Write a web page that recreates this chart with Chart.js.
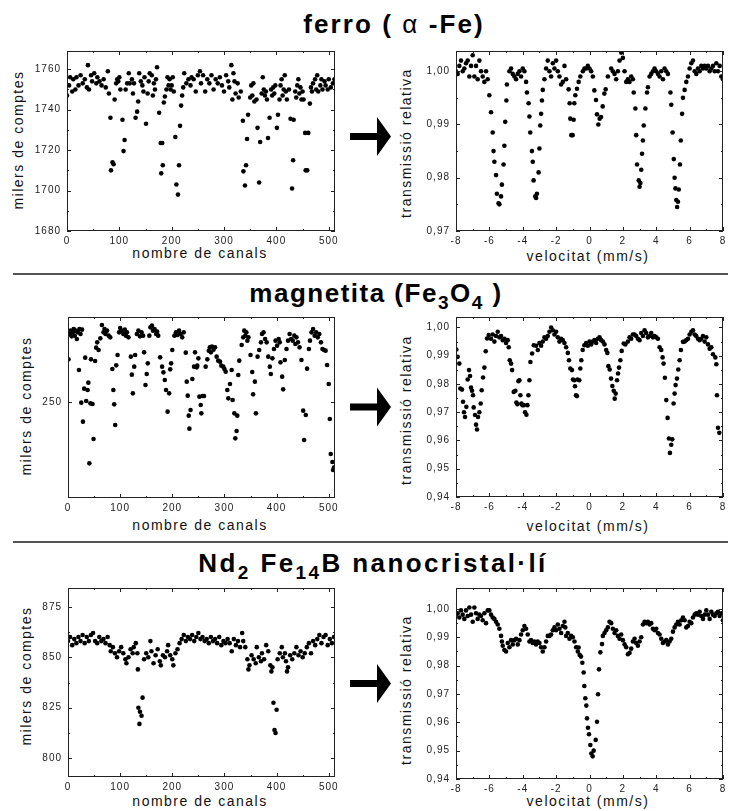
<!DOCTYPE html>
<html>
<head>
<meta charset="utf-8">
<script src="https://cdn.jsdelivr.net/npm/chart.js@4.4.0/dist/chart.umd.min.js"></script>
<style>
  body { margin: 0; background: #fff; width: 741px; height: 811px; position: relative; overflow: hidden;
         font-family: Arial, "Liberation Sans", sans-serif; }
  canvas { position: absolute; }
  .title { position: absolute; transform: translateX(-50%); font-weight: bold; font-size: 26px; line-height: 26px;
           color: #000; white-space: nowrap; letter-spacing: 1.5px; }
  .title sub { font-size: 19px; vertical-align: -7px; line-height: 0; }
  .title .alpha { font-weight: normal; }
  .sep { position: absolute; left: 13px; width: 715px; height: 2px; background: #555; }
  .ax { position: absolute; font-size: 14px; color: #111; white-space: nowrap; letter-spacing: 1.5px; }
  .ax.y { transform: translate(-50%, -50%) rotate(-90deg); }
  .ax.x { transform: translate(-50%, -50%); }
  svg { position: absolute; left: 0; top: 0; }
</style>
</head>
<body>
<div class="title" style="left:394px;top:11px;letter-spacing:2.1px">ferro ( <span class="alpha">&alpha;</span> -Fe)</div>
<div class="sep" style="top:273px"></div>
<div class="title" style="left:376px;top:280px">magnetita (Fe<sub>3</sub>O<sub>4</sub> )</div>
<div class="sep" style="top:541px"></div>
<div class="title" style="left:373px;top:550px;letter-spacing:2.4px">Nd<sub>2</sub> Fe<sub>14</sub>B nanocristal·lí</div>

<svg width="741" height="811">
  <polygon fill="#000" points="350,133 377,133 377,117 391,136.5 377,156 377,140 350,140"/>
  <polygon fill="#000" points="350,403.5 377,403.5 377,387.5 391,407 377,426.5 377,410.5 350,410.5"/>
  <polygon fill="#000" points="350,680 377,680 377,664 391,683.5 377,703 377,687 350,687"/>
</svg>

<div class="ax y" style="left:18px;top:140px">milers de comptes</div>
<div class="ax x" style="left:200px;top:253px">nombre de canals</div>
<div class="ax y" style="left:406px;top:143px">transmissió relativa</div>
<div class="ax x" style="left:588px;top:256px">velocitat (mm/s)</div>
<div class="ax y" style="left:26px;top:406px">milers de comptes</div>
<div class="ax x" style="left:200px;top:525px">nombre de canals</div>
<div class="ax y" style="left:406px;top:410px">transmissió relativa</div>
<div class="ax x" style="left:588px;top:526px">velocitat (mm/s)</div>
<div class="ax y" style="left:26px;top:676px">milers de comptes</div>
<div class="ax x" style="left:200px;top:801px">nombre de canals</div>
<div class="ax y" style="left:406px;top:690px">transmissió relativa</div>
<div class="ax x" style="left:588px;top:801px">velocitat (mm/s)</div>

<script>
// --- tick values ---
const canalTicks = [0, 100, 200, 300, 400, 500];
const canalMinor = [50, 150, 250, 350, 450];
const velTicks = [-8, -6, -4, -2, 0, 2, 4, 6, 8];
const velMinor = [-7, -5, -3, -1, 1, 3, 5, 7];
const ferroCountTicks = [1680, 1700, 1720, 1740, 1760];
const ferroCountMinor = [1690, 1710, 1730, 1750];
const magCountTicks = [250];
const ndCountTicks = [800, 825, 850, 875];
const ndCountMinor = [812.5, 837.5, 862.5];
const ferroTransTicks = [0.97, 0.98, 0.99, 1.00];
const ferroTransMinor = [0.975, 0.985, 0.995];
const transTicks = [0.94, 0.95, 0.96, 0.97, 0.98, 0.99, 1.00];
const transMinor = [0.945, 0.955, 0.965, 0.975, 0.985, 0.995];

// --- ferro (alpha-Fe): [canal, milers de comptes] ---
const ferroCanals = [[0,1747],[4,1752],[6,1756],[10,1749],[12,1755],[16,1750],[18,1756],[22,1752],[26,1757],[30,1753],[34,1755],[38,1751],[40,1762],[42,1750],[46,1757],[48,1754],[52,1758],[56,1753],[58,1756],[62,1754],[66,1752],[70,1755],[74,1751],[78,1759],[80,1748],[83,1736],[84,1710],[87,1714],[89,1713],[91,1745],[94,1753],[96,1755],[98,1754],[100,1756],[102,1750],[106,1735],[108,1719.5],[110,1725],[112,1750],[115,1753],[118,1758],[120,1753],[124,1755],[126,1748],[128,1753],[131,1736],[134,1739],[136,1744],[138,1758],[141,1754],[144,1752],[146,1749],[148,1756],[151,1733],[154,1748],[156,1754],[158,1758],[162,1757],[164,1747],[166,1753],[168,1750],[170,1755],[172,1761],[176,1738.5],[179,1723.5],[180,1708.5],[182,1723.5],[183,1712.5],[185,1743.5],[187,1746.5],[190,1750],[192,1756],[194,1752],[196,1755],[198,1750],[200,1752],[202,1756],[204,1749],[207,1726.5],[209,1703],[212,1698],[214,1712.5],[216,1732],[218,1742],[220,1747],[222,1751],[224,1758],[228,1753],[232,1755],[236,1752],[238,1756],[242,1755],[246,1749],[250,1757],[254,1759],[256,1753],[260,1757],[264,1749],[268,1755],[272,1753],[276,1757],[280,1750],[284,1755],[288,1753],[292,1756],[296,1752],[300,1749],[304,1757],[308,1754],[310,1751],[314,1762],[316,1745],[318,1758],[320,1754],[322,1748],[326,1753],[328,1746],[332,1749],[336,1734.5],[337,1709.5],[340,1702.5],[342,1712.5],[344,1725.5],[346,1737.5],[350,1746],[352,1752],[354,1747],[356,1753],[358,1744],[362,1745],[364,1731],[367,1704],[369,1724],[372,1748],[374,1756],[376,1750],[378,1747],[380,1749],[382,1745],[384,1726],[387,1736],[390,1750],[392,1747],[394,1751],[396,1748],[398,1752],[401,1731],[403,1737.5],[406,1745],[408,1752],[410,1755],[412,1747],[414,1750],[416,1757],[418,1749],[420,1745],[424,1750],[427,1735.5],[430,1701],[432,1715],[433,1735],[436,1749],[438,1746],[440,1752],[442,1755],[444,1748],[446,1751],[448,1745],[450,1749],[452,1745],[455,1728.5],[456,1710],[459,1710],[461,1728.5],[464,1743],[466,1751],[468,1749],[470,1753],[474,1755],[476,1750],[478,1757],[480,1749],[484,1752],[486,1755],[488,1750],[492,1754],[494,1752],[498,1750],[500,1755],[504,1751],[508,1753],[511,1755]];

// --- ferro (alpha-Fe): [velocitat mm/s, transmissio] ---
const ferroVel = [[-8,1.000],[-7.9,0.9995],[-7.8,1.001],[-7.7,1.002],[-7.6,1.000],[-7.5,1.0005],[-7.4,1.0015],[-7.3,1.002],[-7.2,0.999],[-7.1,1.001],[-7.0,1.003],[-6.9,0.999],[-6.8,1.001],[-6.7,0.9985],[-6.6,1.002],[-6.5,1.000],[-6.4,0.999],[-6.3,0.998],[-6.2,1.000],[-6.1,0.9985],
  [-6.0,0.9955],[-5.9,0.9923],[-5.8,0.9885],[-5.75,0.985],[-5.7,0.983],[-5.6,0.9805],[-5.55,0.977],[-5.45,0.9752],[-5.4,0.975],[-5.3,0.9765],[-5.25,0.9787],[-5.15,0.9825],[-5.1,0.986],[-5.05,0.9905],[-4.98,0.9945],[-4.95,0.9975],
  [-4.8,1.000],[-4.7,1.0005],[-4.6,0.9995],[-4.5,0.999],[-4.4,0.9985],[-4.3,0.9995],[-4.2,1.000],[-4.1,0.999],[-4.0,1.0005],[-3.9,1.000],[-3.8,0.998],
  [-3.75,0.996],[-3.65,0.994],[-3.6,0.9915],[-3.55,0.9885],[-3.45,0.985],[-3.4,0.983],[-3.35,0.9795],[-3.25,0.9765],[-3.2,0.9762],[-3.15,0.977],[-3.05,0.981],[-3.0,0.9855],[-2.95,0.9898],[-2.9,0.992],[-2.85,0.9945],[-2.8,0.9965],[-2.7,0.9985],
  [-2.6,1.0005],[-2.5,1.002],[-2.4,1.000],[-2.3,0.999],[-2.2,1.0015],[-2.1,1.0005],[-2.0,1.002],[-1.9,1.000],[-1.8,0.999],[-1.7,0.9975],[-1.6,0.998],[-1.5,1.001],[-1.4,0.9985],
  [-1.25,0.9966],[-1.19,0.994],[-1.15,0.9911],[-1.09,0.988],[-1.01,0.988],[-0.95,0.9909],[-0.91,0.994],[-0.85,0.9955],[-0.75,0.9967],[-0.65,0.998],[-0.55,0.999],
  [-0.4,1.000],[-0.3,1.0005],[-0.2,1.0005],[-0.1,1.001],[0,1.0005],[0.1,1.000],[0.2,0.999],
  [0.29,0.9964],[0.39,0.9946],[0.45,0.9919],[0.53,0.990],[0.61,0.9911],[0.69,0.9914],[0.79,0.9934],[0.89,0.9958],[0.97,0.9966],[1.1,0.999],
  [1.3,1.0005],[1.4,1.000],[1.5,0.9995],[1.6,0.9985],[1.7,1.000],[1.8,1.002],[1.9,1.0035],[2.0,1.0025],[2.1,1.000],[2.2,0.998],[2.3,0.9985],[2.4,0.998],[2.5,0.999],[2.6,0.9985],
  [2.65,0.996],[2.75,0.993],[2.8,0.988],[2.85,0.9825],[2.95,0.9795],[3.0,0.9783],[3.05,0.979],[3.1,0.9815],[3.15,0.9845],[3.2,0.987],[3.25,0.9898],[3.35,0.993],[3.45,0.996],[3.5,0.997],[3.6,0.999],
  [3.7,0.9995],[3.8,1.000],[3.9,1.0005],[4.0,1.000],[4.1,0.9995],[4.2,0.999],[4.3,1.000],[4.4,0.9985],[4.5,1.0005],[4.6,1.000],[4.7,0.9995],
  [4.85,0.996],[4.9,0.9937],[4.98,0.9885],[5.05,0.9835],[5.1,0.980],[5.15,0.978],[5.2,0.9758],[5.25,0.9745],[5.3,0.9755],[5.35,0.9778],[5.42,0.9825],[5.47,0.987],[5.55,0.992],[5.6,0.995],[5.7,0.9965],[5.8,0.998],
  [5.9,0.999],[6.0,1.0005],[6.1,1.0015],[6.2,1.002],[6.3,1.000],[6.4,0.9995],[6.5,1.0005],[6.6,1.000],[6.7,1.001],[6.8,1.0005],[6.9,1.001],[7.0,1.0005],[7.1,1.001],[7.2,1.000],[7.3,1.0005],[7.4,1.001],[7.5,1.000],[7.6,1.0015],[7.7,1.000],[7.8,1.001],[7.9,0.999],[8.0,0.9985]];

// --- magnetita (Fe3O4): [canal, milers de comptes] ---
const magCanals = [[1,262.9],[3,270.5],[5,271.5],[7,269.8],[9,271],[11,272],[13,270],[15,271.5],[17,269],[19,271],[21,259.7],[22,272],[24,270.5],[25.5,249.9],[27,271.8],[28.7,244.2],[31,254.1],[33,263.4],[35,250.4],[37.6,253.7],[39,255.9],[41,231.7],[43,249.7],[44,262.9],[47,249.5],[49,239],[52,262.4],[54,266.4],[56,268],[58.7,265.7],[62,269.2],[65,273.2],[68,271],[70,272],[72,270.5],[75,271.5],[78,270],[81,269.5],[85,260],[87,253.7],[88.6,249.4],[90.5,243.2],[92.5,261.1],[95,264.2],[98,271],[100,272.3],[103,271.5],[106,270.5],[109,271.8],[111,270],[113,271],[116,269.5],[120.5,263.7],[122.4,258.3],[124.4,252.7],[127,260.7],[128.8,264.2],[132,270.5],[135,271.5],[138,269.8],[141,271],[144,270],[146,265],[148.6,255.2],[151,258.5],[153,261.7],[156,270],[158,272.5],[161,273],[163,271.5],[166,272],[169,270.5],[171,271.2],[173,270],[176.7,263.5],[180.5,260.7],[183,259],[185.6,256.7],[188,253.7],[191,247.2],[194,252.7],[196,259.9],[197.7,261.7],[200,265.7],[204,270],[207,271],[210,270.2],[213,271.5],[216,270.5],[219,269.5],[222,271],[225.8,264.9],[227.7,256.2],[229.6,252],[231.5,246],[232.8,242.1],[235,247.7],[238.5,257],[241.7,260.7],[243.6,265],[246.8,260.5],[248,261],[250,263.2],[252,251.7],[254.5,249.2],[255.7,246.7],[258.3,251.9],[260.8,251.9],[264,260.7],[267.2,262.9],[270,265.5],[272,266.5],[274,265],[276,266.7],[279,265.8],[282,266.5],[285,263.7],[288,262.5],[291.5,262.2],[294,261],[297.8,260.7],[300,260],[302.3,259.2],[305.5,253.7],[307.4,251.2],[310.6,255.5],[313.8,259.7],[315.7,250.7],[319,246.7],[320.8,239.2],[323.3,241.4],[324.6,246],[326.5,258.2],[328.4,262.5],[333,267.2],[336,269.5],[338,271.5],[340,270],[342,271],[344,268.5],[346,269.5],[350,264.2],[353.3,259.1],[355,252.4],[358.4,256.2],[360.3,246.7],[363.5,263.7],[366.7,265.7],[370,268],[372,270.5],[375,271],[378,269],[381,268],[384,263.7],[387,260.7],[389,258.5],[392,263.2],[395,266],[398,268.5],[401,267],[404,269],[406,268],[407.5,262],[410.7,257.7],[412.6,253.9],[415.8,262.7],[419,266],[422,268.5],[425,270.5],[428,269],[431,268.5],[434,270],[436,267.5],[438,269.5],[441,268],[444,266.5],[447.7,262.7],[451,247.5],[452.8,238.7],[456,246.2],[458.5,260.1],[462,266],[464,268.5],[467,271],[470,272],[473,270],[476,271],[479,269.5],[482,270.5],[485,268],[488,266],[491,265.7],[494,265.5],[496.8,261.2],[500,255.5],[502,245],[503.8,234.5],[507,232.1],[508.3,229.7],[510,230.4]];

// --- magnetita (Fe3O4): [velocitat mm/s, transmissio] ---
const magVel = [[-7.98,0.9922],[-7.9,0.9896],[-7.8,0.9872],[-7.74,0.9784],[-7.64,0.978],[-7.58,0.9737],[-7.52,0.970],[-7.46,0.9683],[-7.38,0.9719],[-7.3,0.9816],[-7.22,0.9849],[-7.16,0.9828],[-7.1,0.9787],[-7.04,0.9776],[-6.98,0.976],[-6.94,0.9717],[-6.86,0.969],[-6.8,0.9656],[-6.74,0.9639],[-6.68,0.9683],[-6.6,0.970],[-6.52,0.9731],[-6.46,0.9778],[-6.38,0.9823],[-6.3,0.9858],[-6.22,0.9916],[-6.14,0.9961],[-6.04,0.9973],
  [-5.9,0.996],[-5.8,0.9975],[-5.7,0.995],[-5.6,0.997],[-5.5,0.9985],[-5.4,0.9965],[-5.3,0.997],[-5.2,0.9955],[-5.1,0.996],[-5.0,0.9945],[-4.9,0.9955],[-4.84,0.993],
  [-4.78,0.9884],[-4.7,0.9872],[-4.64,0.9849],[-4.54,0.9772],[-4.44,0.9776],[-4.38,0.9734],[-4.32,0.9728],[-4.26,0.981],[-4.2,0.9813],[-4.14,0.976],[-4.08,0.9731],[-4.02,0.9725],[-3.94,0.9725],[-3.86,0.970],[-3.78,0.9691],[-3.72,0.9725],[-3.66,0.976],[-3.6,0.9813],[-3.54,0.9878],[-3.44,0.9908],[-3.34,0.9937],
  [-3.2,0.9935],[-3.1,0.992],[-3.0,0.9945],[-2.9,0.9935],[-2.8,0.995],[-2.7,0.9965],[-2.6,0.996],[-2.5,0.997],[-2.4,0.9985],[-2.3,1.000],[-2.2,0.999],[-2.1,0.9975],[-2.0,0.9985],[-1.9,0.9965],[-1.8,0.995],[-1.7,0.996],[-1.6,0.9955],[-1.5,0.9945],[-1.4,0.993],[-1.3,0.991],
  [-1.23,0.9884],[-1.15,0.9855],[-1.05,0.9849],[-0.99,0.9816],[-0.91,0.9813],[-0.87,0.9792],[-0.81,0.976],[-0.75,0.9757],[-0.71,0.9816],[-0.61,0.9813],[-0.55,0.9855],[-0.49,0.9884],[-0.41,0.992],[-0.31,0.9937],
  [-0.2,0.9945],[-0.1,0.9935],[0,0.995],[0.1,0.994],[0.2,0.995],[0.3,0.9955],[0.4,0.9945],[0.5,0.996],[0.6,0.9965],[0.7,0.9955],[0.8,0.995],[0.9,0.994],[1.0,0.992],
  [1.07,0.991],[1.13,0.9863],[1.21,0.9851],[1.29,0.9819],[1.37,0.9793],[1.45,0.9776],[1.51,0.9748],[1.57,0.9766],[1.65,0.9813],[1.71,0.9837],[1.77,0.9858],[1.85,0.9884],[1.93,0.9917],[2.05,0.9943],
  [2.15,0.994],[2.3,0.995],[2.4,0.9965],[2.5,0.996],[2.6,0.9975],[2.7,0.9975],[2.8,0.997],[2.9,0.996],[3.0,0.9955],[3.1,0.998],[3.2,0.997],[3.3,0.999],[3.4,0.998],[3.5,0.9965],[3.6,0.997],[3.7,0.998],[3.8,0.9965],[3.9,0.997],[4.0,0.9965],[4.1,0.996],[4.2,0.993],
  [4.3,0.992],[4.38,0.9894],[4.44,0.9872],[4.52,0.9822],[4.6,0.9743],[4.68,0.968],[4.76,0.9607],[4.82,0.9556],[4.9,0.9585],[4.96,0.9604],[5.04,0.9731],[5.1,0.9766],[5.16,0.9796],[5.24,0.9819],[5.32,0.9851],[5.4,0.9884],[5.48,0.992],[5.6,0.9949],
  [5.7,0.995],[5.8,0.9955],[5.9,0.996],[6.0,0.9975],[6.1,0.9985],[6.2,0.999],[6.3,0.9975],[6.4,0.997],[6.5,0.996],[6.6,0.9955],[6.7,0.996],[6.8,0.997],[6.9,0.995],[7.0,0.9965],[7.1,0.994],[7.2,0.9925],[7.3,0.993],[7.4,0.9905],[7.54,0.9894],[7.6,0.987],[7.64,0.976],[7.7,0.9645],[7.78,0.9627]];

// --- Nd2Fe14B nanocristal·li: [canal, milers de comptes] ---
const ndCanals = [[0,858],[4,860],[8,856],[12,859],[16,857],[20,860],[24,858],[28,861],[32,857],[36,860],[40,858],[44,861],[48,862],[52,858],[56,857],[60,860],[64,858],[68,859],[72,857],[76,860],[80,856],[82,853],[86,855],[90,852],[94,850],[98,853],[102,855],[106,852],[110,849],[112,847],[116,850],[120,854],[124,852],[126,855],[130,857],[133,852],[134,844],[135,825],[137,817],[138,823],[141,821],[143,830],[146,849],[150,852],[154,850],[158,858],[160,853],[164,847],[168,851],[172,854],[176,848],[178,846],[182,851],[186,850],[190,853],[192,856],[196,851],[200,849],[202,846],[206,852],[210,854],[214,857],[218,859],[222,861],[226,858],[230,860],[234,859],[238,861],[242,858],[246,860],[250,862],[254,859],[258,860],[262,858],[266,859],[270,857],[274,860],[278,858],[282,859],[286,857],[290,860],[294,856],[298,858],[302,857],[306,859],[310,857],[314,853],[318,859],[322,856],[326,858],[330,855],[334,862],[336,858],[340,855],[344,849],[346,844],[348,846],[352,851],[356,849],[360,847],[362,855],[366,850],[370,848],[372,852],[376,849],[380,856],[384,853],[388,846],[390,843],[392,845],[394,827.5],[396,814],[398,812.5],[400,824],[402,849],[406,852],[410,855],[412,850],[416,852],[418,848],[420,843],[422,845],[426,851],[430,849],[434,852],[438,855],[442,851],[446,853],[450,850],[454,852],[458,855],[462,857],[466,852],[470,858],[474,856],[478,859],[482,861],[486,857],[490,860],[494,861],[498,856],[502,859],[506,857],[510,860]];

// --- Nd2Fe14B nanocristal·li: [velocitat mm/s, transmissio] ---
const ndVel = [[-8,0.998],[-7.9,0.9985],[-7.8,0.997],[-7.7,0.9995],[-7.6,0.998],[-7.5,0.9965],[-7.4,0.9995],[-7.3,0.9975],[-7.2,1.0005],[-7.1,0.998],[-7.0,0.9955],[-6.9,1.0005],[-6.8,0.9985],[-6.7,0.9965],[-6.6,0.998],[-6.5,0.9975],[-6.4,0.996],[-6.3,0.9985],[-6.2,0.995],[-6.1,0.9995],[-6.0,0.9995],[-5.9,0.998],[-5.8,0.997],[-5.7,0.9965],[-5.6,0.9955],[-5.5,0.9945],[-5.4,0.993],[-5.3,0.9905],[-5.25,0.9885],[-5.2,0.987],[-5.1,0.9855],[-5.0,0.985],[-4.9,0.988],[-4.8,0.9865],[-4.7,0.989],[-4.6,0.9875],[-4.5,0.989],[-4.4,0.9895],[-4.3,0.9875],[-4.2,0.989],[-4.1,0.991],[-4.0,0.9925],[-3.9,0.994],[-3.8,0.993],[-3.7,0.991],[-3.6,0.9885],[-3.5,0.989],[-3.4,0.988],[-3.3,0.9885],[-3.2,0.9875],[-3.1,0.9885],[-3.0,0.988],[-2.9,0.9865],[-2.8,0.985],[-2.7,0.9865],[-2.6,0.9885],[-2.5,0.9905],[-2.4,0.9905],[-2.3,0.991],[-2.2,0.9925],[-2.1,0.9935],[-2.0,0.9925],[-1.9,0.9945],[-1.8,0.993],[-1.7,0.9915],[-1.6,0.994],[-1.5,0.9955],[-1.45,0.9935],[-1.4,0.9905],[-1.3,0.9915],[-1.2,0.9895],[-1.1,0.9905],[-1.0,0.990],[-0.9,0.9885],[-0.8,0.9865],[-0.7,0.985],[-0.65,0.9864],[-0.59,0.9838],[-0.51,0.9832],[-0.43,0.981],[-0.35,0.9776],[-0.31,0.9728],[-0.25,0.9685],[-0.19,0.9659],[-0.15,0.9614],[-0.09,0.9581],[-0.03,0.9558],[0.05,0.952],[0.11,0.949],[0.19,0.948],[0.25,0.950],[0.37,0.9538],[0.45,0.9602],[0.51,0.9699],[0.57,0.9787],[0.65,0.9847],[0.75,0.9876],[0.8,0.9905],[0.9,0.9915],[1.0,0.9925],[1.1,0.9935],[1.2,0.9955],[1.3,0.995],[1.4,0.993],[1.5,0.9915],[1.6,0.9925],[1.7,0.9905],[1.8,0.9895],[1.9,0.991],[2.0,0.989],[2.1,0.9875],[2.2,0.9865],[2.3,0.984],[2.4,0.9845],[2.5,0.986],[2.6,0.9885],[2.7,0.9895],[2.8,0.988],[2.9,0.987],[3.0,0.9885],[3.1,0.990],[3.2,0.9945],[3.3,0.9955],[3.4,0.995],[3.5,0.9955],[3.6,0.9945],[3.7,0.995],[3.8,0.993],[3.9,0.9925],[4.0,0.993],[4.1,0.9915],[4.2,0.991],[4.3,0.9895],[4.4,0.988],[4.5,0.9885],[4.6,0.989],[4.7,0.9875],[4.8,0.9885],[4.9,0.9895],[5.0,0.992],[5.1,0.9935],[5.2,0.9945],[5.3,0.9955],[5.4,0.9945],[5.5,0.996],[5.6,0.997],[5.7,0.996],[5.8,0.9935],[5.9,0.994],[6.0,0.9955],[6.1,0.995],[6.2,0.997],[6.3,0.998],[6.4,0.9985],[6.5,0.998],[6.6,0.999],[6.7,0.9975],[6.8,0.9965],[6.9,0.998],[7.0,0.9995],[7.1,0.998],[7.2,0.9965],[7.3,0.999],[7.4,0.998],[7.5,0.9975],[7.6,0.9985],[7.7,0.999],[7.8,0.9975],[7.9,0.9985],[8.0,0.996]];

const commaFmt = (v) => v.toFixed(2).replace('.', ',');
const intFmt = (v) => String(v);

// plot rectangle of every panel, in page pixels
const panels = [
  { pts: ferroCanals, box: [67, 335, 51, 231], x: [0, 512], y: [1680, 1769], xt: canalTicks, xm: canalMinor, yt: ferroCountTicks, ym: ferroCountMinor, yf: intFmt },
  { pts: ferroVel, box: [456, 723, 51, 231], x: [-8, 8], y: [0.97, 1.0038], xt: velTicks, xm: velMinor, yt: ferroTransTicks, ym: ferroTransMinor, yf: commaFmt },
  { pts: magCanals, box: [68, 335, 317, 498], x: [0, 512], y: [221.3, 275.6], xt: canalTicks, xm: canalMinor, yt: magCountTicks, ym: [], yf: intFmt },
  { pts: magVel, box: [456, 723, 317, 497], x: [-8, 8], y: [0.94, 1.0037], xt: velTicks, xm: velMinor, yt: transTicks, ym: transMinor, yf: commaFmt },
  { pts: ndCanals, box: [68, 335, 588, 777], x: [0, 512], y: [790.7, 884.3], xt: canalTicks, xm: canalMinor, yt: ndCountTicks, ym: ndCountMinor, yf: intFmt },
  { pts: ndVel, box: [456, 723, 588, 779], x: [-8, 8], y: [0.94, 1.0074], xt: velTicks, xm: velMinor, yt: transTicks, ym: transMinor, yf: commaFmt }
];

// frame + inward ticks on all four sides, Origin style
const frameTicks = {
  id: 'frameTicks',
  beforeDraw(chart) { chart.ctx.letterSpacing = '1px'; },
  afterDraw(chart) {
    const p = chart.options.plugins.frameTicks;
    const { ctx, chartArea: a, scales } = chart;
    ctx.save();
    ctx.strokeStyle = '#222';
    ctx.lineWidth = 1;
    ctx.strokeRect(Math.round(a.left) + 0.5, Math.round(a.top) + 0.5,
      Math.round(a.right - a.left) - 1, Math.round(a.bottom - a.top) - 1);
    ctx.beginPath();
    const vx = (vals, len) => vals.forEach((v) => {
      const px = Math.round(scales.x.getPixelForValue(v)) + 0.5;
      ctx.moveTo(px, a.bottom); ctx.lineTo(px, a.bottom - len);
      ctx.moveTo(px, a.top); ctx.lineTo(px, a.top + len);
    });
    const vy = (vals, len) => vals.forEach((v) => {
      const py = Math.round(scales.y.getPixelForValue(v)) + 0.5;
      ctx.moveTo(a.left, py); ctx.lineTo(a.left + len, py);
      ctx.moveTo(a.right, py); ctx.lineTo(a.right - len, py);
    });
    vx(p.xt, 4); vx(p.xm, 2);
    vy(p.yt, 4); vy(p.ym, 2);
    ctx.stroke();
    ctx.restore();
  }
};

panels.forEach((p) => {
  const [l, r, t, b] = p.box;
  const cl = l - 48, cr = r + 14, ct = t - 10, cb = b + 20;
  const canvas = document.createElement('canvas');
  canvas.width = cr - cl;
  canvas.height = cb - ct;
  canvas.style.left = cl + 'px';
  canvas.style.top = ct + 'px';
  document.body.appendChild(canvas);

  const tickFont = { family: 'Arial, "Liberation Sans", sans-serif', size: 10 };
  new Chart(canvas.getContext('2d'), {
    type: 'scatter',
    data: {
      datasets: [{
        data: p.pts.map(([x, y]) => ({ x, y })),
        pointRadius: 2.3,
        pointBackgroundColor: '#000',
        pointBorderWidth: 0,
        showLine: false
      }]
    },
    options: {
      responsive: false,
      animation: false,
      events: [],
      layout: { padding: { left: 0, top: t - ct, right: cr - r, bottom: 0 } },
      plugins: {
        legend: { display: false },
        tooltip: { enabled: false },
        frameTicks: { xt: p.xt, xm: p.xm, yt: p.yt, ym: p.ym }
      },
      scales: {
        x: {
          type: 'linear', min: p.x[0], max: p.x[1],
          grid: { display: false, drawTicks: false },
          border: { display: false },
          afterBuildTicks: (s) => { s.ticks = p.xt.map((v) => ({ value: v })); },
          afterFit: (s) => { s.height = cb - b; s.paddingLeft = 0; s.paddingRight = 0; },
          ticks: { color: '#222', font: tickFont, padding: 4, maxRotation: 0, autoSkip: false, callback: intFmt }
        },
        y: {
          type: 'linear', min: p.y[0], max: p.y[1],
          grid: { display: false, drawTicks: false },
          border: { display: false },
          afterBuildTicks: (s) => { s.ticks = p.yt.map((v) => ({ value: v })); },
          afterFit: (s) => { s.width = l - cl; s.paddingTop = 0; s.paddingBottom = 0; },
          ticks: { color: '#222', font: tickFont, padding: 6, autoSkip: false, callback: p.yf }
        }
      }
    },
    plugins: [frameTicks]
  });
});
</script>
</body>
</html>
